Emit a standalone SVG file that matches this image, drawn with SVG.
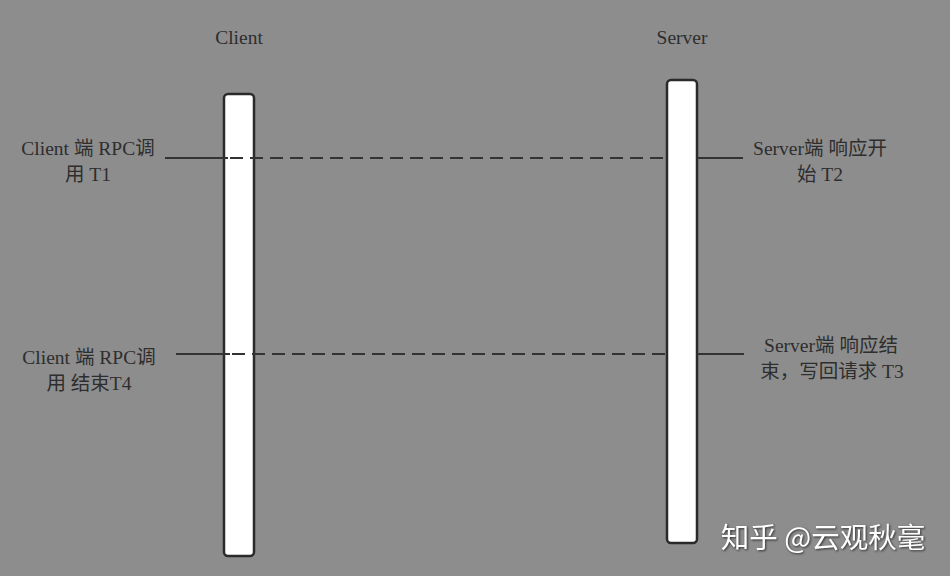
<svg xmlns="http://www.w3.org/2000/svg" width="950" height="576" viewBox="0 0 950 576">
<style>
.lbl{font-family:"Liberation Serif","Noto Sans CJK SC",serif;font-size:19.5px;fill:#2e2e2e;text-anchor:middle}
.bar{fill:#fff;stroke:#2a2a2a;stroke-width:2.5}
.solid{stroke:#333;stroke-width:2;fill:none}
.dash{stroke:#333;stroke-width:2;fill:none;stroke-dasharray:13 7}
.wm{font-family:"Noto Sans CJK SC",sans-serif;font-size:28.5px;fill:#fff;text-anchor:middle}
</style>
<rect width="950" height="576" fill="#8d8d8d"/>
<g id="client">
<text class="lbl" x="239" y="44">Client</text>
<rect class="bar" x="224" y="94" width="30" height="462" rx="4"/>
</g>
<g id="server">
<text class="lbl" x="682" y="44">Server</text>
<rect class="bar" x="667" y="80" width="30" height="463" rx="4"/>
</g>
<g id="connectors">
<line class="solid" x1="165" y1="158" x2="228" y2="158"/>
<line class="dash" x1="230" y1="158" x2="667" y2="158"/>
<line class="solid" x1="697" y1="158" x2="743" y2="158"/>
<line class="solid" x1="176" y1="354" x2="230" y2="354"/>
<line class="dash" x1="232" y1="354" x2="667" y2="354"/>
<line class="solid" x1="697" y1="354" x2="744" y2="354"/>
</g>
<g id="t1">
<text class="lbl" x="88" y="155">Client 端 RPC调</text>
<text class="lbl" x="88" y="181">用 T1</text>
</g>
<g id="t2">
<text class="lbl" x="820" y="155">Server端 响应开</text>
<text class="lbl" x="820" y="181">始 T2</text>
</g>
<g id="t4">
<text class="lbl" x="89" y="364">Client 端 RPC调</text>
<text class="lbl" x="89" y="390">用 结束T4</text>
</g>
<g id="t3">
<text class="lbl" x="831" y="352">Server端 响应结</text>
<text class="lbl" x="832" y="378">束，写回请求 T3</text>
</g>
<text class="wm" x="823" y="548" style="filter:drop-shadow(1px 1px 1px #333)">知乎 @云观秋毫</text>
</svg>
